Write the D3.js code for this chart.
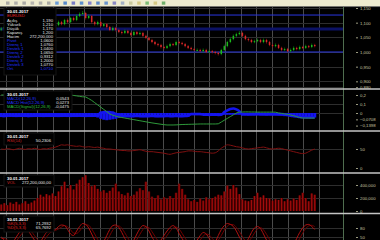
<!DOCTYPE html>
<html>
<head>
<meta charset="utf-8">
<script src="https://cdn.jsdelivr.net/npm/d3@7"></script>
<style>
  body { margin: 0; background: #000; }
  svg { display: block; font-family: "Liberation Sans", Arial, sans-serif; }
</style>
</head>
<body>
<svg id="chart" width="380" height="240"></svg>
<script>
// ---- data ----
const dateLabel = "30.01.2017";

const opens = [1.076,1.080,1.085,1.078,1.082,1.090,1.086,1.092,1.095,1.088,1.084,1.090,1.096,1.093,1.099,1.095,1.090,1.094,
  1.089,1.092,1.102,1.095,1.109,1.102,1.116,1.109,1.123,1.130,1.133,1.116,1.123,1.102,1.095,1.102,1.089,1.095,1.085,1.075,
  1.082,1.075,1.068,1.065,1.072,1.065,1.058,1.068,1.061,1.065,1.055,1.048,1.041,1.034,1.027,1.024,1.017,1.014,1.020,1.027,
  1.024,1.034,1.031,1.027,1.020,1.014,1.010,1.007,1.007,1.003,1.007,1.000,1.003,1.000,0.997,0.993,1.007,1.020,1.034,1.044,
  1.055,1.061,1.065,1.055,1.044,1.041,1.034,1.037,1.041,1.034,1.041,1.034,1.024,1.020,1.024,1.014,1.007,1.010,1.003,1.007,
  1.014,1.010,1.017,1.014,1.020,1.017,1.024];
const closes = [1.080,1.085,1.078,1.082,1.090,1.086,1.092,1.095,1.088,1.084,1.090,1.096,1.093,1.099,1.095,1.090,1.094,1.089,
  1.092,1.102,1.095,1.109,1.102,1.116,1.109,1.123,1.130,1.133,1.116,1.123,1.102,1.095,1.102,1.089,1.095,1.085,1.075,1.082,
  1.075,1.068,1.065,1.072,1.065,1.058,1.068,1.061,1.065,1.055,1.048,1.041,1.034,1.027,1.024,1.017,1.014,1.020,1.027,1.024,
  1.034,1.031,1.027,1.020,1.014,1.010,1.007,1.007,1.003,1.007,1.000,1.003,1.000,0.997,0.993,1.007,1.020,1.034,1.044,1.055,
  1.061,1.065,1.055,1.044,1.041,1.034,1.037,1.041,1.034,1.041,1.034,1.024,1.020,1.024,1.014,1.007,1.010,1.003,1.007,1.014,
  1.010,1.017,1.014,1.020,1.017,1.024,1.020];
const highs = [1.085,1.090,1.089,1.087,1.094,1.095,1.097,1.101,1.099,1.092,1.095,1.101,1.100,1.104,1.103,1.099,1.098,1.098,
  1.097,1.107,1.106,1.113,1.114,1.120,1.121,1.128,1.135,1.140,1.137,1.128,1.126,1.106,1.107,1.105,1.099,1.098,1.089,1.087,
  1.086,1.079,1.073,1.077,1.076,1.069,1.073,1.072,1.070,1.069,1.059,1.052,1.045,1.038,1.031,1.028,1.021,1.025,1.032,1.031,
  1.039,1.038,1.035,1.031,1.024,1.018,1.014,1.012,1.011,1.012,1.011,1.008,1.007,1.004,1.001,1.011,1.025,1.038,1.049,1.060,
  1.066,1.071,1.069,1.059,1.048,1.045,1.042,1.046,1.045,1.046,1.045,1.038,1.028,1.029,1.028,1.018,1.015,1.014,1.012,1.019,
  1.018,1.022,1.021,1.025,1.024,1.029,1.028];
const lows = [1.071,1.076,1.073,1.074,1.079,1.081,1.083,1.088,1.084,1.079,1.080,1.086,1.088,1.089,1.091,1.086,1.085,1.084,
  1.084,1.088,1.091,1.091,1.098,1.098,1.105,1.105,1.119,1.126,1.111,1.112,1.097,1.090,1.091,1.085,1.085,1.080,1.071,1.071,
  1.070,1.064,1.060,1.061,1.061,1.053,1.054,1.057,1.057,1.051,1.044,1.037,1.030,1.023,1.019,1.012,1.009,1.010,1.016,1.020,
  1.020,1.026,1.023,1.016,1.010,1.006,1.003,1.002,0.999,0.999,0.996,0.996,0.995,0.992,0.988,0.989,1.003,1.016,1.030,1.040,
  1.051,1.057,1.051,1.040,1.036,1.030,1.030,1.033,1.030,1.030,1.029,1.020,1.015,1.016,1.010,1.002,1.003,0.999,0.999,1.003,
  1.006,1.006,1.010,1.010,1.013,1.013,1.016];

// horizontal blue levels on the price panel
const levelValues = [1.126, 1.078, 1.000];
const levelWidths = [1, 3, 1];
const levelColors = ["#2a36e0", "#0c1266", "#2a36e0"];

const macdLine = [-0.030,-0.032,-0.030,-0.028,-0.030,-0.031,-0.030,-0.029,-0.030,-0.032,-0.031,-0.030,-0.029,-0.030,-0.031,-0.030,-0.030,-0.029,
  -0.030,-0.031,-0.030,-0.029,-0.030,-0.031,-0.030,-0.030,-0.029,-0.030,-0.031,-0.030,-0.030,-0.029,-0.028,0.005,0.010,0.012,
  0.010,0.005,-0.010,-0.020,-0.030,-0.035,-0.035,-0.036,-0.035,-0.034,-0.035,-0.036,-0.035,-0.035,-0.034,-0.035,-0.036,-0.035,
  -0.035,-0.034,-0.035,-0.035,-0.034,-0.035,-0.035,-0.034,-0.030,-0.012,-0.010,-0.010,-0.012,-0.020,-0.020,-0.021,-0.020,-0.020,
  -0.021,-0.020,0.010,0.030,0.045,0.050,0.040,0.020,-0.010,-0.010,-0.011,-0.010,-0.010,-0.009,-0.010,-0.010,-0.011,-0.010,
  -0.010,-0.010,-0.011,-0.012,-0.015,-0.020,-0.030,-0.035,-0.040,-0.045,-0.048,-0.050,-0.050,-0.050,-0.050];
const macdHist = [-0.045,-0.046,-0.045,-0.044,-0.045,-0.046,-0.045,-0.044,-0.045,-0.046,-0.046,-0.045,-0.044,-0.045,-0.046,-0.045,-0.045,-0.044,
  -0.045,-0.046,-0.045,-0.044,-0.045,-0.046,-0.045,-0.045,-0.044,-0.045,-0.046,-0.045,-0.045,-0.044,-0.050,-0.065,-0.075,-0.080,
  -0.075,-0.070,-0.065,-0.055,-0.050,-0.045,-0.045,-0.046,-0.045,-0.044,-0.045,-0.046,-0.045,-0.045,-0.044,-0.045,-0.046,-0.045,
  -0.045,-0.044,-0.045,-0.045,-0.044,-0.045,-0.045,-0.044,-0.040,-0.025,-0.025,-0.025,-0.025,-0.020,-0.020,-0.021,-0.020,-0.020,
  -0.021,-0.020,-0.020,-0.020,-0.020,-0.020,-0.020,-0.020,-0.030,-0.030,-0.031,-0.030,-0.030,-0.029,-0.030,-0.030,-0.031,-0.030,
  -0.030,-0.030,-0.031,-0.032,-0.035,-0.037,-0.040,-0.043,-0.045,-0.047,-0.049,-0.050,-0.050,-0.050,-0.050];
const macdSignal = [0.200,0.200,0.200,0.200,0.200,0.200,0.200,0.200,0.200,0.200,0.200,0.200,0.200,0.200,0.200,0.200,0.200,0.200,
  0.200,0.200,0.200,0.200,0.200,0.200,0.195,0.190,0.185,0.180,0.178,0.160,0.140,0.115,0.090,0.065,0.040,0.015,-0.010,-0.025,
  -0.035,-0.044,-0.050,-0.056,-0.062,-0.068,-0.074,-0.080,-0.086,-0.092,-0.098,-0.104,-0.110,-0.115,-0.120,-0.125,-0.130,-0.133,
  -0.133,-0.133,-0.132,-0.130,-0.128,-0.127,-0.126,-0.125,-0.124,-0.123,-0.122,-0.122,-0.122,-0.122,-0.122,-0.122,-0.120,-0.100,
  -0.080,-0.060,-0.040,-0.020,0.000,0.010,0.011,0.012,0.012,0.011,0.011,0.010,0.010,0.010,0.010,0.010,0.010,0.009,0.000,-0.005,
  -0.010,-0.015,-0.022,-0.030,-0.040,-0.050,-0.056,-0.056,-0.056,-0.056,-0.056];

const rsiValues = [50,49,51,50,48,50,52,50,49,51,50,52,50,49,51,50,52,53,55,58,61,60,61,59,58,57,58,56,55,56,55,54,55,53,52,50,50,
  49,48,47,46,46,45,45,46,47,48,46,44,43,43,42,41,40,39,37,36,38,40,41,42,43,45,45,44,43,43,42,41,40,39,40,45,52,57,61,60,58,56,
  55,53,51,50,51,52,53,54,55,53,51,50,51,52,51,49,47,45,43,41,39,38,39,43,47,50];

const volumes = [100,120,90,130,110,140,100,120,150,110,130,160,200,250,220,260,240,270,230,300,380,450,350,400,330,420,480,520,
  550,430,380,400,340,300,320,280,310,360,420,300,260,240,280,230,250,300,350,320,450,300,220,200,240,180,210,190,230,200,280,420,
  340,250,180,150,170,140,190,160,210,180,200,220,250,240,300,390,340,400,360,260,180,160,150,170,230,280,210,240,200,190,160,180,
  170,200,150,180,160,190,170,240,280,200,150,270,250];

const stochK = [50,40,30,25,35,50,65,75,80,70,55,40,30,35,50,65,70,72,75,85,90,88,75,60,55,70,85,95,92,80,60,40,25,20,35,55,75,88,
  90,82,65,45,30,25,40,60,78,88,85,70,50,35,30,40,55,70,82,88,80,62,45,30,20,15,25,40,55,65,60,45,30,35,55,75,88,95,92,85,70,50,
  35,30,45,65,80,85,78,60,40,25,15,10,12,20,25,20,15,25,45,65,80,90,92,85,75];
const stochD = [45,45,40,32,30,37,50,63,73,75,68,55,42,35,38,50,62,69,72,77,83,88,84,74,63,62,70,83,91,89,77,60,42,28,27,37,55,73,
  84,87,79,64,47,33,32,42,59,75,84,81,68,52,38,35,42,55,69,80,83,77,62,46,32,22,20,27,40,53,60,57,45,37,40,55,73,86,92,91,82,68,
  52,38,37,47,63,77,81,74,59,42,27,17,12,14,19,22,20,20,28,45,63,78,87,89,84];

const priceTicks = [1.15, 1.10, 1.05, 1.00, 0.95, 0.90, 0.88];
const macdTicks = [0.2, 0.1, 0, -0.0708, -0.1398];
const rsiTicks = [50, 0];
const volTicks = [400, 200, 0];
const stochTicks = [80, 50];

const priceInfoLabels = ["Açılış", "Yüksek", "Düşük", "Kapanış", "Hacim"];
const priceInfoValues = ["1,190", "1,210", "1,170", "1,200", "272,200,000"];
const levelInfoLabels = ["Pivot", "Direnç 1", "Destek 1", "Direnç 2", "Destek 2", "Direnç 3", "Destek 3", "Ort."];
const levelInfoValues = ["1,0600", "1,0760", "1,0400", "1,0650", "0,9312", "1,2000", "1,0770", "1,0710"];

// ---- layout ----
const W = 380, H = 240;
const plotRight = 343;
const fmt = d3.formatLocale({ decimal: ",", thousands: ",", grouping: [3], currency: ["", ""] });

const svg = d3.select("#chart");
svg.append("rect").attr("width", W).attr("height", H).attr("fill", "#000");

const x = d3.scaleBand().domain(d3.range(closes.length)).range([0.5, 0.5 + 3 * closes.length]).paddingInner(0.5);
const cx = i => x(i) + x.bandwidth() / 2;

const panels = {
  price: { top: 7, bottom: 88 },
  macd: { top: 90, bottom: 130 },
  rsi: { top: 132, bottom: 172 },
  vol: { top: 174, bottom: 212.5 },
  stoch: { top: 215, bottom: 240 }
};

const yPrice = d3.scaleLinear().domain([1.0, 1.15]).range([52, 8]);
const yMacd = d3.scaleLinear().domain([0, 0.2]).range([113, 95]);
const yRsi = d3.scaleLinear().domain([0, 100]).range([168, 130]);
const yVol = d3.scaleLinear().domain([0, 400]).range([211, 185]);
const yStoch = d3.scaleLinear().domain([0, 100]).range([252, 222]);

const defs = svg.append("defs");
Object.entries(panels).forEach(([k, p]) => {
  defs.append("clipPath").attr("id", "clip-" + k)
    .append("rect").attr("x", 0).attr("y", p.top).attr("width", plotRight).attr("height", p.bottom - p.top);
});

// vertical grid
const gridX = d3.range(21).map(k => 6 + k * 15.65);
svg.append("g").selectAll("line").data(gridX).join("line")
  .attr("x1", d => Math.round(d) + 0.5).attr("x2", d => Math.round(d) + 0.5)
  .attr("y1", 7).attr("y2", H)
  .attr("stroke", "#4a4a4a").attr("stroke-width", 1);

// horizontal grid per panel
function hGrid(scale, ticks, key) {
  svg.append("g").attr("clip-path", `url(#clip-${key})`)
    .selectAll("line").data(ticks).join("line")
    .attr("x1", 0).attr("x2", plotRight)
    .attr("y1", d => Math.round(scale(d)) + 0.5).attr("y2", d => Math.round(scale(d)) + 0.5)
    .attr("stroke", "#2e2e2e");
}
hGrid(yPrice, priceTicks, "price");
hGrid(yMacd, [0.2, 0.1, 0], "macd");
hGrid(yRsi, [50], "rsi");
hGrid(yVol, [400, 200], "vol");
hGrid(yStoch, stochTicks, "stoch");

// ---- price panel ----
const gPrice = svg.append("g").attr("clip-path", "url(#clip-price)");
gPrice.selectAll("line.level").data(levelValues).join("line")
  .attr("class", "level")
  .attr("x1", 0).attr("x2", plotRight)
  .attr("y1", d => yPrice(d)).attr("y2", d => yPrice(d))
  .attr("stroke", (d, i) => levelColors[i])
  .attr("stroke-width", (d, i) => levelWidths[i]);

const candles = closes.map((c, i) => ({ i, o: opens[i], h: highs[i], l: lows[i], c }));
gPrice.selectAll("line.wick").data(candles).join("line")
  .attr("class", "wick")
  .attr("x1", d => cx(d.i)).attr("x2", d => cx(d.i))
  .attr("y1", d => yPrice(d.h)).attr("y2", d => yPrice(d.l))
  .attr("stroke", d => d.c >= d.o ? "#0a8a0a" : "#a01818").attr("stroke-width", 0.7);
gPrice.selectAll("rect.body").data(candles).join("rect")
  .attr("class", "body")
  .attr("x", d => x(d.i)).attr("width", x.bandwidth())
  .attr("y", d => yPrice(Math.max(d.o, d.c)))
  .attr("height", d => Math.max(1, Math.abs(yPrice(d.o) - yPrice(d.c))))
  .attr("fill", d => d.c >= d.o ? "#1cb81c" : "#d82828");

// ---- MACD panel ----
const gMacd = svg.append("g").attr("clip-path", "url(#clip-macd)");
gMacd.selectAll("rect").data(macdHist).join("rect")
  .attr("x", (d, i) => x(i) - 0.75).attr("width", 3)
  .attr("y", d => Math.min(yMacd(0), yMacd(d)))
  .attr("height", d => Math.abs(yMacd(d) - yMacd(0)))
  .attr("fill", "#1414f0");
gMacd.append("path").datum(macdLine)
  .attr("d", d3.line().x((d, i) => cx(i)).y(d => yMacd(d)).curve(d3.curveMonotoneX))
  .attr("fill", "none").attr("stroke", "#1414f0").attr("stroke-width", 2.5);
gMacd.append("path").datum(macdSignal)
  .attr("d", d3.line().x((d, i) => cx(i)).y(d => yMacd(d)))
  .attr("fill", "none").attr("stroke", "#2e9a3a").attr("stroke-width", 1);

// ---- RSI panel ----
svg.append("g").attr("clip-path", "url(#clip-rsi)")
  .append("path").datum(rsiValues)
  .attr("d", d3.line().x((d, i) => cx(i)).y(d => yRsi(d)).curve(d3.curveMonotoneX))
  .attr("fill", "none").attr("stroke", "#801010").attr("stroke-width", 1);

// ---- volume panel ----
const gVol = svg.append("g").attr("clip-path", "url(#clip-vol)");
gVol.selectAll("rect").data(volumes).join("rect")
  .attr("x", (d, i) => x(i) - 0.5).attr("width", x.bandwidth() + 1)
  .attr("y", d => yVol(d)).attr("height", d => yVol(0) - yVol(d))
  .attr("fill", "#5a0000");
gVol.selectAll("line").data(volumes).join("line")
  .attr("x1", (d, i) => cx(i)).attr("x2", (d, i) => cx(i))
  .attr("y1", d => yVol(d)).attr("y2", yVol(0))
  .attr("stroke", "#b81010").attr("stroke-width", 0.8);

// ---- stochastic panel ----
const gSto = svg.append("g").attr("clip-path", "url(#clip-stoch)");
gSto.append("path").datum(stochD)
  .attr("d", d3.line().x((d, i) => cx(i)).y(d => yStoch(d)).curve(d3.curveMonotoneX))
  .attr("fill", "none").attr("stroke", "#700000").attr("stroke-width", 1);
gSto.append("path").datum(stochK)
  .attr("d", d3.line().x((d, i) => cx(i)).y(d => yStoch(d)).curve(d3.curveMonotoneX))
  .attr("fill", "none").attr("stroke", "#b01010").attr("stroke-width", 1);

// ---- info boxes ----
function infoBox(x0, y0, w, h) {
  const g = svg.append("g");
  g.append("rect").attr("x", x0).attr("y", y0).attr("width", w).attr("height", h)
    .attr("fill", "#000").attr("stroke", "#151515");
  g.append("text").attr("x", x0 + 3).attr("y", y0 + 4.5).text(dateLabel)
    .attr("fill", "#fff").attr("font-size", 4.3).attr("font-weight", "bold");
  return g;
}
function row(g, x0, xr, y, label, value, color, valueColor) {
  g.append("text").attr("x", x0).attr("y", y).text(label)
    .attr("fill", color).attr("font-size", 4.2);
  g.append("text").attr("x", xr).attr("y", y).text(value).attr("text-anchor", "end")
    .attr("fill", valueColor || "#e8e8e8").attr("font-size", 4.2);
}

const bPrice = infoBox(4, 8, 52, 67);
bPrice.append("text").attr("x", 7).attr("y", 17).text("EURUSD").attr("fill", "#e02020").attr("font-size", 4.2);
priceInfoLabels.forEach((l, i) => row(bPrice, 7, 53, 21.5 + i * 4, l, priceInfoValues[i], "#e8e8e8"));
levelInfoLabels.forEach((l, i) => row(bPrice, 7, 53, 42 + i * 4, l, levelInfoValues[i], "#2233ff", i === 7 ? "#2233ff" : "#e8e8e8"));

const bMacd = infoBox(4, 91, 68, 19);
row(bMacd, 7, 69, 99.5, "MACD(12,26,9)", "0,0543", "#2233ff");
row(bMacd, 7, 69, 103.5, "MACD Hist(12,26,9)", "0,0273", "#2233ff");
row(bMacd, 7, 69, 107.5, "MACD(Signal)(12,26,9)", "-0,0475", "#30c040");

const bRsi = infoBox(4, 133, 50, 12);
row(bRsi, 7, 51, 142, "RSI(14)", "50,2306", "#d02020");

const bVol = infoBox(4, 175, 50, 12);
row(bVol, 7, 51, 184, "VOL", "272,200,000,00", "#d02020");

const bSto = infoBox(4, 216, 50, 16);
row(bSto, 7, 51, 225, "%K(5,3,3)", "71,2932", "#e02020");
row(bSto, 7, 51, 229, "%D(5,3,3)", "65,7692", "#e02020");

// ---- right axis ----
svg.append("line").attr("x1", plotRight + 0.5).attr("x2", plotRight + 0.5).attr("y1", 7).attr("y2", H)
  .attr("stroke", "#4f6e4f");
function axisLabels(scale, ticks, f) {
  const g = svg.append("g")
    .attr("transform", `translate(356,0)`)
    .call(d3.axisRight(scale).tickValues(ticks).tickFormat(f).tickSize(2).tickPadding(2));
  g.select(".domain").remove();
  g.selectAll("line").attr("stroke", "#9a9a80");
  g.selectAll("text").attr("fill", "#c8c4a0").attr("font-size", 4.3).attr("font-family", "Liberation Sans, Arial");
}
axisLabels(yPrice, priceTicks, d3.format(".3f"));
axisLabels(yPrice, [], d => d);
axisLabels(yMacd, macdTicks, d => d === 0 ? "0" : (Math.abs(d) < 0.15 && d % 0.1 !== 0 ? fmt.format(".4f")(d) : fmt.format(".1f")(d)));
axisLabels(yRsi, rsiTicks, d => d);
axisLabels(yVol, volTicks, d => d === 0 ? "0" : fmt.format(",.0f")(d * 1000));
axisLabels(yStoch, stochTicks, d => d);
// decimal commas on price labels
svg.selectAll("g.tick text").each(function () {
  const t = d3.select(this);
  if (/^\d\.\d{3}$/.test(t.text())) t.text(t.text().replace(".", ","));
});

// ---- panel separators ----
const sepY = [89, 131, 173, 213.5];
svg.append("g").selectAll("line").data(sepY).join("line")
  .attr("x1", 0).attr("x2", W).attr("y1", d => d).attr("y2", d => d)
  .attr("stroke", "#c4c4c4").attr("stroke-width", 1.6);

// ---- toolbar ----
svg.append("rect").attr("x", 0).attr("y", 0).attr("width", W).attr("height", 6.5).attr("fill", "#eeebcf");
svg.append("line").attr("x1", 0).attr("x2", W).attr("y1", 6.6).attr("y2", 6.6).attr("stroke", "#777").attr("stroke-width", 0.6);
const iconColors = ["#9a9a9a", "#a0a0a0", "#9a9a9a", "#a8a8a8", "#a0a0a0", "#9a9a9a",
  "#4a8ad8", "#3070c8", "#5a60c0", "#3a7ad0", "#6a6ad0", "#3a70c8", "#4a80d0", "#7070c0", "#90a0c0",
  "#c0c090", "#d0c070", "#60b060", "#d0c070", "#50a050"];
svg.append("g").selectAll("rect").data(iconColors).join("rect")
  .attr("x", (d, i) => 6 + i * 8.2).attr("y", 1.5).attr("width", 3.5).attr("height", 3.2)
  .attr("fill", d => d).attr("opacity", 0.8);
</script>
</body>
</html>
